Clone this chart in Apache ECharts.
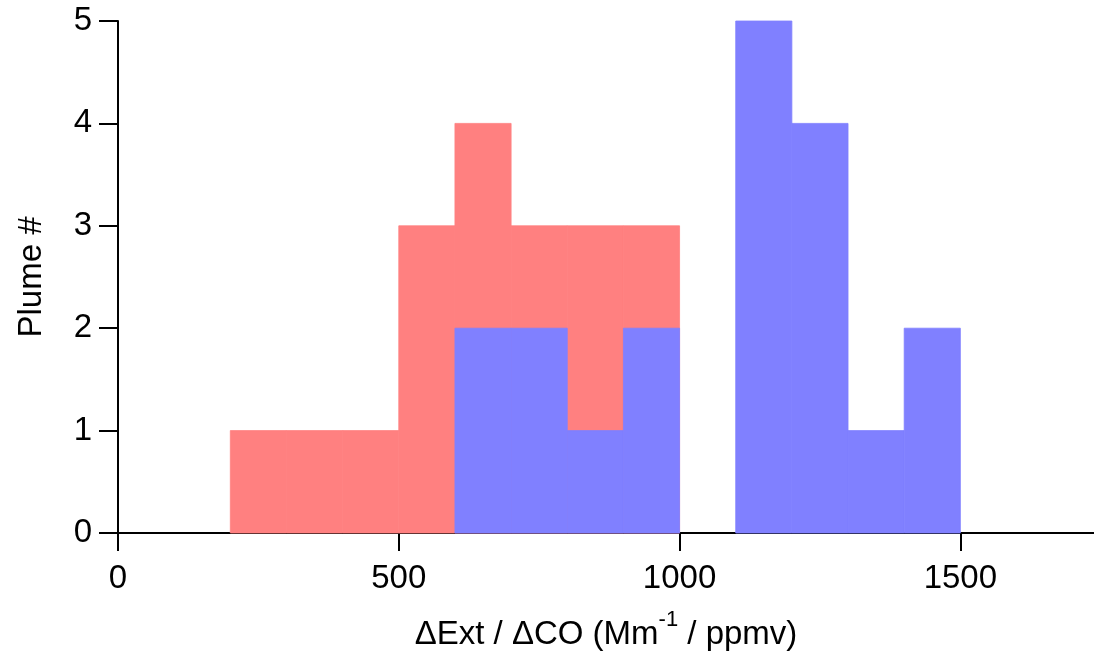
<!DOCTYPE html>
<html>
<head>
<meta charset="utf-8">
<script src="https://cdn.jsdelivr.net/npm/echarts@6/dist/echarts.min.js"></script>
<style>
html,body{margin:0;padding:0;background:#fff;}
#chart{width:1094px;height:653px;}
</style>
</head>
<body>
<div id="chart"></div>
<script>
// Histogram bins (lower edge), width 100
const binStarts = [200, 300, 400, 500, 600, 700, 800, 900, 1000, 1100, 1200, 1300, 1400];
const binWidth = 100;
const redCounts  = [1, 1, 1, 3, 4, 3, 3, 3, 0, 0, 0, 0, 0];
const blueCounts = [0, 0, 0, 0, 2, 2, 1, 2, 0, 5, 4, 1, 2];
const xTicks = [0, 500, 1000, 1500];
const yTicks = [0, 1, 2, 3, 4, 5];

const FONT = 'Liberation Sans, Arial, Helvetica, sans-serif';
const FS = 33;

function toData(counts) {
  const out = [];
  binStarts.forEach((s, i) => {
    if (counts[i] > 0) out.push([s, s + binWidth, counts[i]]);
  });
  return out;
}

function renderBar(params, api) {
  const p0 = api.coord([api.value(0), 0]);
  const p1 = api.coord([api.value(1), api.value(2)]);
  const c = api.visual('color');
  return {
    type: 'rect',
    shape: { x: p0[0], y: p1[1], width: p1[0] - p0[0], height: p0[1] - p1[1] },
    style: { fill: c, stroke: c, lineWidth: 0.8 }
  };
}

const chart = echarts.init(document.getElementById('chart'), null, { renderer: 'canvas' });
chart.setOption({
  animation: false,
  backgroundColor: '#fff',
  grid: { left: 118, right: 0, top: 21, bottom: 120, containLabel: false, outerBoundsMode: 'none' },
  xAxis: {
    type: 'value',
    min: 0,
    max: 1738,
    interval: 500,
    name: '{n|ΔExt / ΔCO (Mm}{s|-1}{n| / ppmv)}',
    nameLocation: 'middle',
    nameGap: 76,
    nameTextStyle: {
      fontFamily: FONT, color: '#000',
      rich: {
        n: { fontSize: FS, fontFamily: FONT, color: '#000', lineHeight: 52 },
        s: { fontSize: 22, fontFamily: FONT, color: '#000', verticalAlign: 'top', lineHeight: 22 }
      }
    },
    axisLine: { show: true, onZero: false, lineStyle: { color: '#000', width: 2 } },
    axisTick: { show: true, inside: false, length: 18, customValues: xTicks, lineStyle: { color: '#000', width: 2 } },
    axisLabel: { customValues: xTicks, fontSize: FS, fontFamily: FONT, color: '#000', margin: 29,
      formatter: v => String(v) },
    splitLine: { show: false }
  },
  yAxis: {
    type: 'value',
    min: 0,
    max: 5,
    interval: 1,
    name: 'Plume #',
    nameLocation: 'middle',
    nameRotate: 90,
    nameGap: 70,
    nameTextStyle: { fontSize: FS, fontFamily: FONT, color: '#000' },
    axisLine: { show: true, onZero: false, lineStyle: { color: '#000', width: 2 } },
    axisTick: { show: true, inside: false, length: 19, lineStyle: { color: '#000', width: 2 } },
    axisLabel: { fontSize: FS, fontFamily: FONT, color: '#000', margin: 26, formatter: v => String(v) },
    splitLine: { show: false }
  },
  series: [
    {
      type: 'custom', name: 'red', renderItem: renderBar,
      itemStyle: { color: 'rgb(255,128,128)' },
      encode: { x: [0, 1], y: 2 },
      data: toData(redCounts), z: 1
    },
    {
      type: 'custom', name: 'blue', renderItem: renderBar,
      itemStyle: { color: 'rgb(128,128,255)' },
      encode: { x: [0, 1], y: 2 },
      data: toData(blueCounts), z: 2
    }
  ]
});
</script>
</body>
</html>
